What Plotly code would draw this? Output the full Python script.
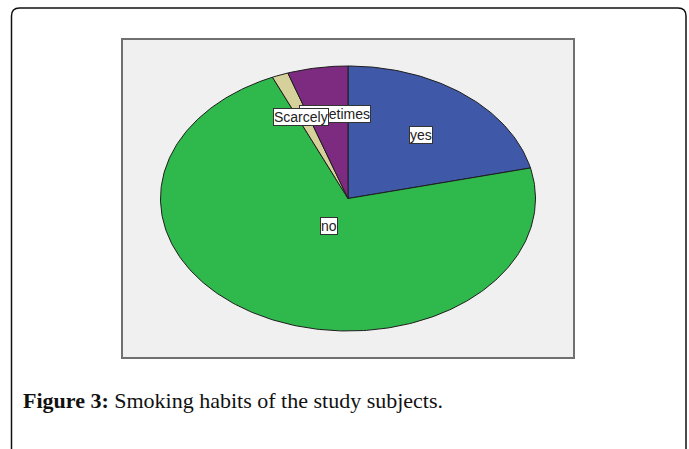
import numpy as np
import plotly.graph_objects as go

# Smoking habits (percent of study subjects), clockwise from 12 o'clock
categories = ["yes", "no", "Scarcely", "Sometimes"]
percent = [21.3, 72.1, 1.4, 5.2]

colors = ["#3f58a8", "#2fb84b", "#d6d19a", "#7c2b80"]
label_radius = [0.61, 0.23, 0.66, 0.65]
label_xshift = [2, 0, -2, 7]

W, H = 689, 449
L, R, T, B = 122, 574, 39, 358          # plot-area edges in pixels
pw, ph = R - L, B - T
rx, ry = 187.5, 132.5                   # pie radii in pixels (SPSS stretched pie)
xr = (pw / 2) / rx
yr = (ph / 2) / ry

fig = go.Figure()

vals = np.array(percent, dtype=float)
frac = vals / vals.sum()
cum = np.concatenate([[0.0], np.cumsum(frac)])

annotations = []
for i, name in enumerate(categories):
    a0 = np.pi / 2 - 2 * np.pi * cum[i]
    a1 = np.pi / 2 - 2 * np.pi * cum[i + 1]
    n = max(int(abs(a1 - a0) / (2 * np.pi) * 400), 4)
    t = np.linspace(a0, a1, n)
    xs = np.concatenate([[0.0], np.cos(t), [0.0]])
    ys = np.concatenate([[0.0], np.sin(t), [0.0]])
    fig.add_trace(go.Scatter(
        x=xs, y=ys, mode="lines", fill="toself",
        fillcolor=colors[i], line=dict(color="#1e1e1e", width=1),
        hoverinfo="skip", showlegend=False,
    ))
    mid = (a0 + a1) / 2
    annotations.append(dict(
        x=label_radius[i] * np.cos(mid), y=label_radius[i] * np.sin(mid),
        xref="x", yref="y", text=name, showarrow=False, xshift=label_xshift[i],
        font=dict(family="Liberation Sans, Arial, sans-serif", size=14, color="#222"),
        bgcolor="white", bordercolor="#333", borderwidth=1, borderpad=0,
    ))

# "Scarcely" box sits on top of "Sometimes"
order = [0, 1, 3, 2]
annotations = [annotations[k] for k in order]


def px(x):
    return (x - L) / pw


def py(y):
    return (B - y) / ph


# caption below the chart
annotations.append(dict(
    x=px(21), y=py(400), xref="paper", yref="paper", xanchor="left", yanchor="middle",
    text="<b>Figure 3:</b> Smoking habits of the study subjects.", showarrow=False,
    font=dict(family="Liberation Serif, Times New Roman, serif", size=22, color="#111"),
))

# rounded outer frame, open at the bottom
r = 8
x0, x1, y0, y1 = 11.5, 686, 8, 470
path = (
    f"M {px(x0)},{py(y1)} L {px(x0)},{py(y0 + r)} "
    f"Q {px(x0)},{py(y0)} {px(x0 + r)},{py(y0)} "
    f"L {px(x1 - r)},{py(y0)} "
    f"Q {px(x1)},{py(y0)} {px(x1)},{py(y0 + r)} "
    f"L {px(x1)},{py(y1)}"
)
shapes = [
    dict(type="path", path=path, xref="paper", yref="paper",
         line=dict(color="#111", width=1.5), layer="below"),
    dict(type="rect", x0=0, x1=1, y0=0, y1=1, xref="paper", yref="paper",
         line=dict(color="#707070", width=2), layer="above"),
]

fig.update_layout(
    width=W, height=H,
    margin=dict(l=L, r=W - R, t=T, b=H - B),
    paper_bgcolor="white", plot_bgcolor="#f0f0f0",
    xaxis=dict(range=[-xr, xr], visible=False, fixedrange=True),
    yaxis=dict(range=[-yr, yr], visible=False, fixedrange=True),
    annotations=annotations, shapes=shapes, showlegend=False,
)

fig.write_html("out.html")
